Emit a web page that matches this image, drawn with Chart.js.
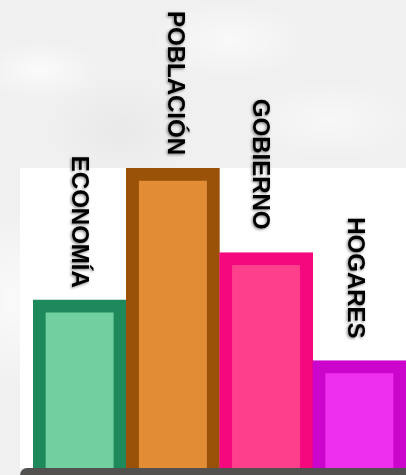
<!DOCTYPE html>
<html>
<head>
<meta charset="utf-8">
<script src="https://cdn.jsdelivr.net/npm/chart.js@4/dist/chart.umd.min.js"></script>
<style>
  html, body { margin: 0; padding: 0; }
  body {
    width: 406px; height: 475px; overflow: hidden;
    background:
      radial-gradient(ellipse 60px 30px at 40px 70px, rgba(255,255,255,0.7), rgba(255,255,255,0)),
      radial-gradient(ellipse 80px 40px at 230px 40px, rgba(255,255,255,0.6), rgba(255,255,255,0)),
      radial-gradient(ellipse 70px 50px at 120px 130px, rgba(228,228,228,0.6), rgba(228,228,228,0)),
      radial-gradient(ellipse 90px 40px at 330px 120px, rgba(255,255,255,0.5), rgba(255,255,255,0)),
      radial-gradient(ellipse 40px 90px at 10px 300px, rgba(255,255,255,0.7), rgba(255,255,255,0)),
      #f0f0f0;
  }
  #wrap { position: absolute; left: 0; top: 0; width: 406px; height: 475px; }
</style>
</head>
<body>
<div id="wrap"><canvas id="myChart" width="406" height="475"></canvas></div>
<script>
const categories = ["ECONOMÍA", "POBLACIÓN", "GOBIERNO", "HOGARES"];
const values = [21.3, 38, 27.3, 13.6];
const fillColors = ["#72d0a0", "#e38c36", "#fd3f8c", "#ef2ff0"];
const borderColors = ["#1e8a5c", "#9a5208", "#f5077d", "#cc05cc"];

// white panel + dark base strip behind the bars
const panelPlugin = {
  id: "panel",
  beforeDraw(chart) {
    const ctx = chart.ctx;
    const a = chart.chartArea;
    ctx.save();
    ctx.fillStyle = "#ffffff";
    ctx.fillRect(a.left - 13, a.top, a.right - a.left + 13, a.bottom - a.top);
    ctx.fillStyle = "#535050";
    ctx.beginPath();
    ctx.roundRect(a.left - 13, a.bottom, a.right - a.left + 20, 20, 7);
    ctx.fill();
    ctx.restore();
  }
};

// vertical category names above each bar (label nudges as in the original)
const labelShiftX = [-1, 2, -7, -5];
const labelGap = [12, 13, 23, 22];
const labelPlugin = {
  id: "barLabels",
  afterDatasetsDraw(chart) {
    const ctx = chart.ctx;
    const meta = chart.getDatasetMeta(0);
    ctx.save();
    ctx.font = "bold 24px 'Liberation Sans', Arial, sans-serif";
    ctx.fillStyle = "#000";
    ctx.textAlign = "right";
    ctx.textBaseline = "middle";
    ctx.shadowColor = "rgba(0,0,0,0.5)";
    ctx.shadowBlur = 3;
    ctx.shadowOffsetX = -1;
    ctx.shadowOffsetY = 1;
    meta.data.forEach(function(bar, i) {
      ctx.save();
      ctx.translate(bar.x + labelShiftX[i], bar.y - labelGap[i]);
      ctx.rotate(Math.PI / 2);
      ctx.fillText(categories[i], 0, 0);
      ctx.restore();
    });
    ctx.restore();
  }
};

var ctx = document.getElementById("myChart").getContext("2d");
var barChart = new Chart(ctx, {
  type: "bar",
  data: {
    labels: categories,
    datasets: [{
      data: values,
      backgroundColor: fillColors,
      borderColor: borderColors,
      borderWidth: 13,
      categoryPercentage: 1,
      barPercentage: 1
    }]
  },
  options: {
    responsive: false,
    animation: false,
    layout: { padding: { top: 168, left: 33, right: 0, bottom: 7 } },
    plugins: { legend: { display: false }, tooltip: { enabled: false } },
    scales: {
      x: { display: false },
      y: { display: false, min: 0, max: 38 }
    }
  },
  plugins: [panelPlugin, labelPlugin]
});
</script>
</body>
</html>
